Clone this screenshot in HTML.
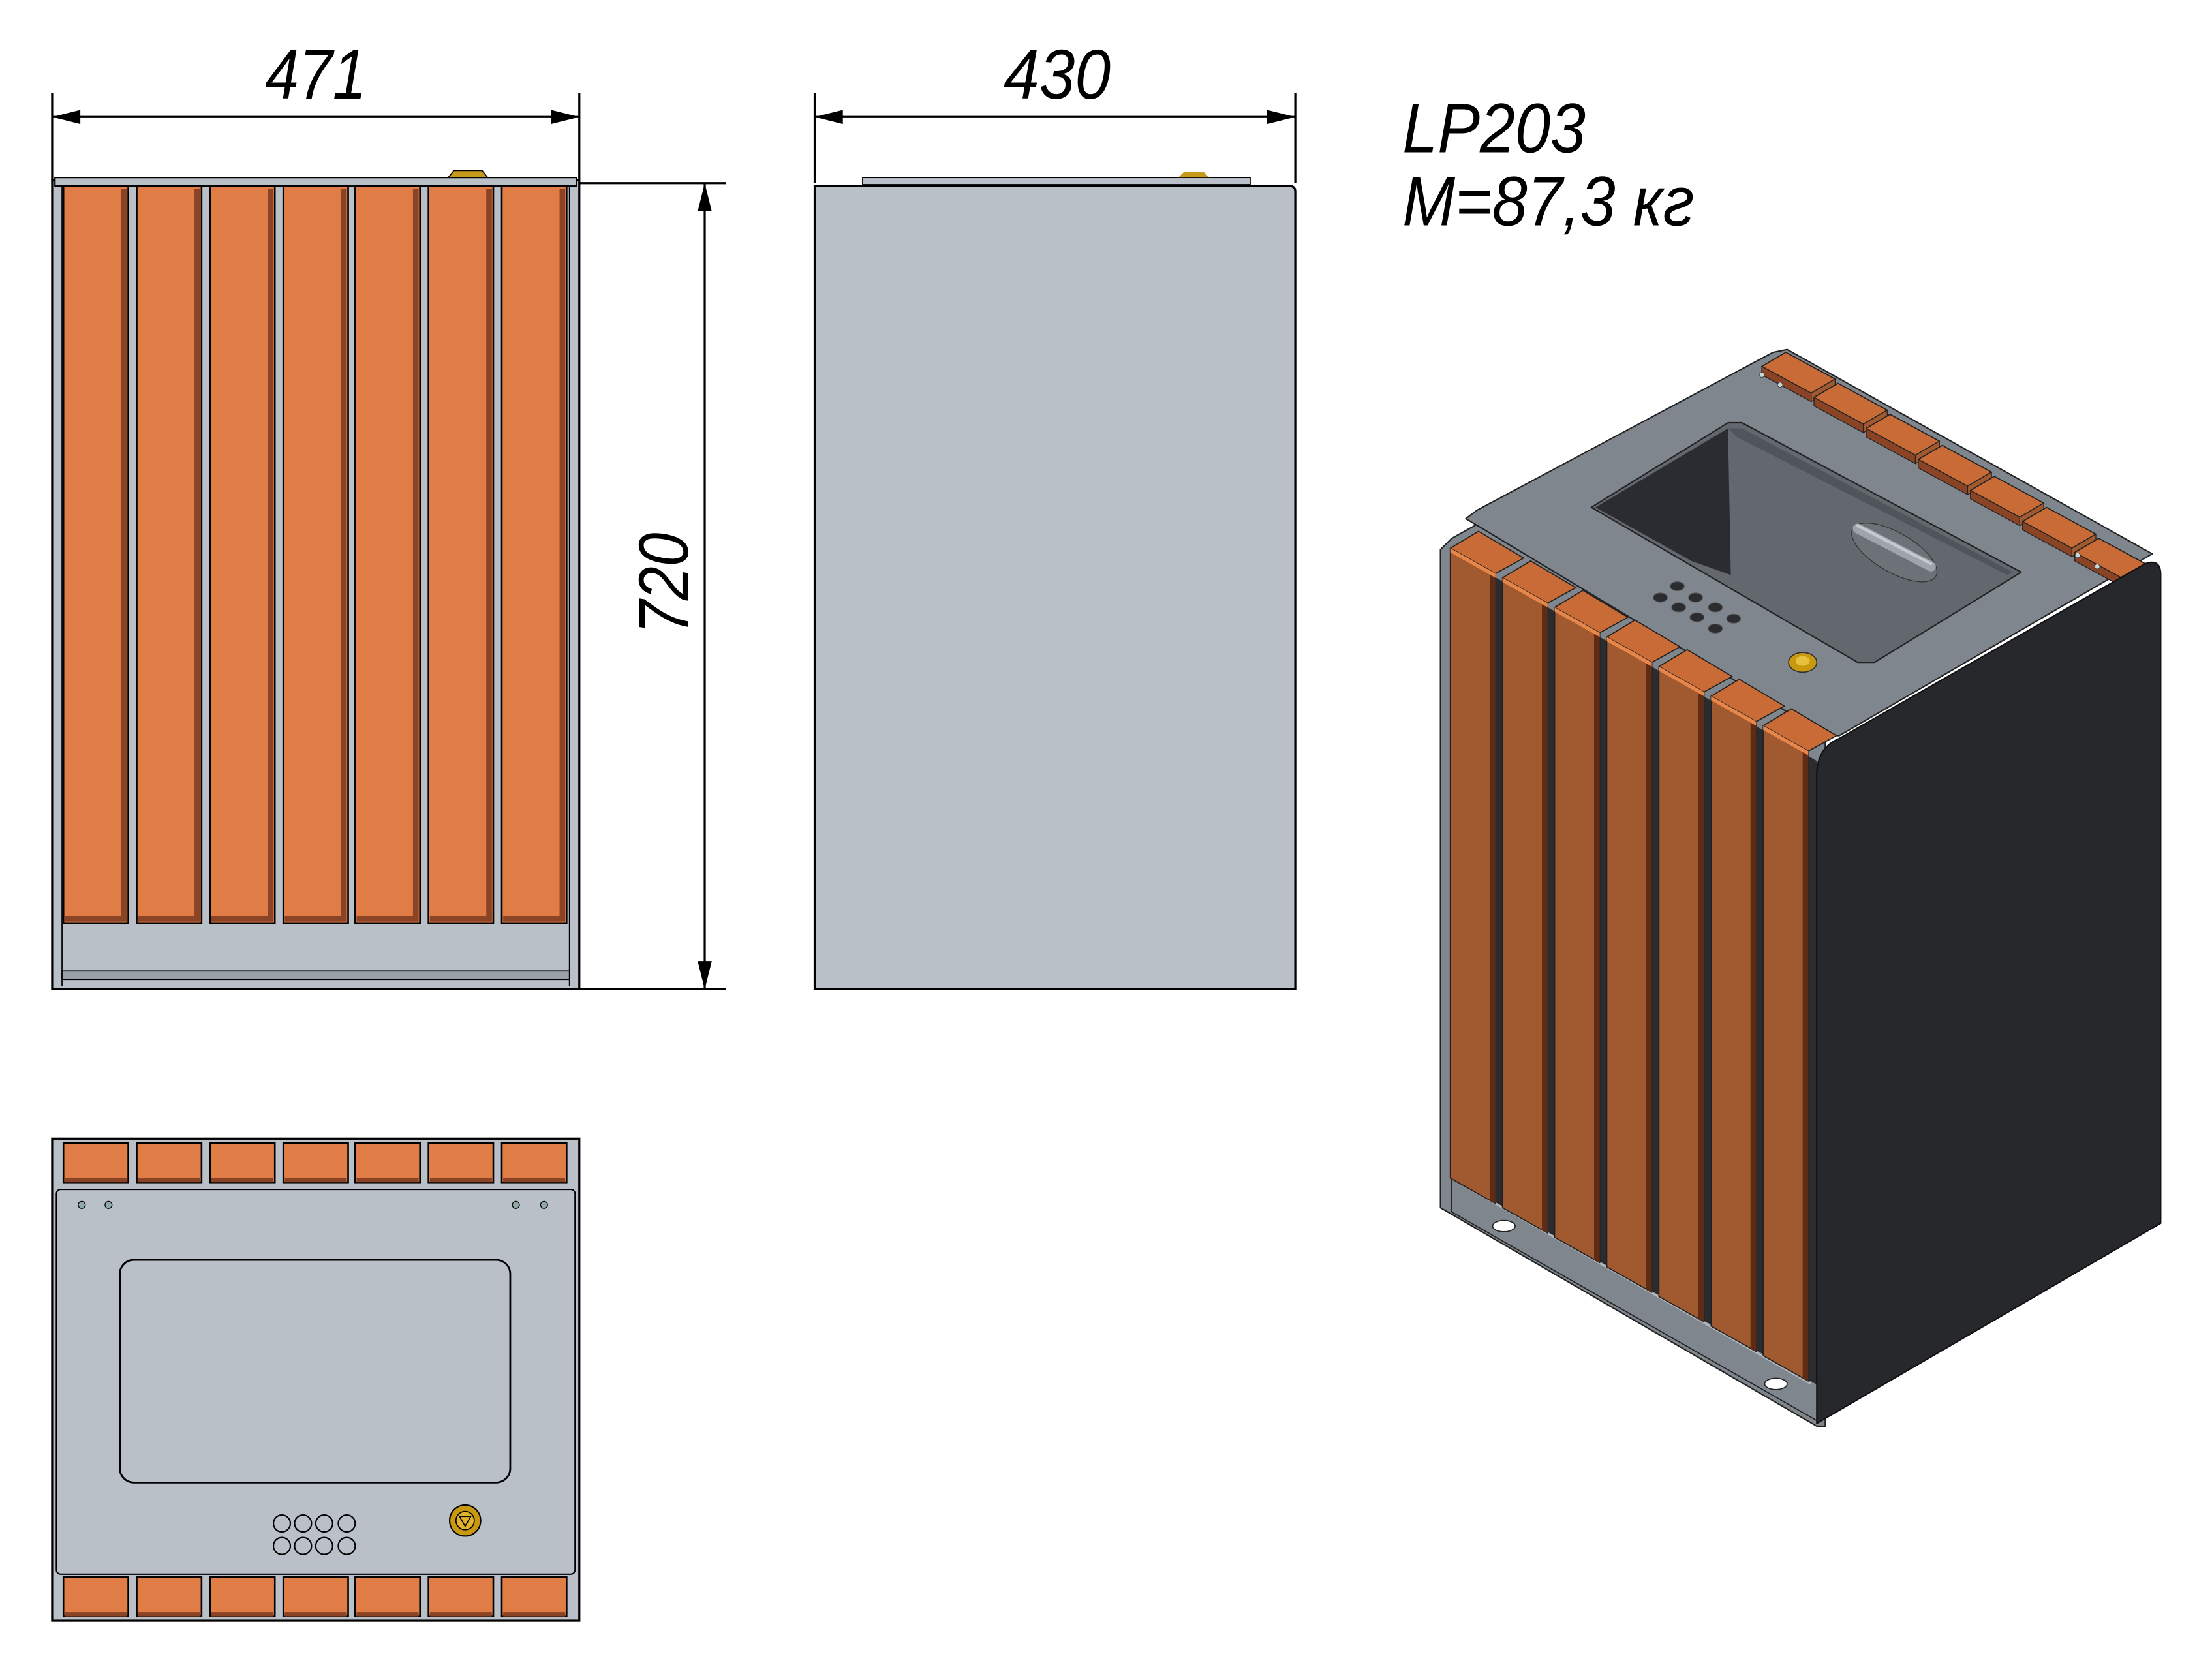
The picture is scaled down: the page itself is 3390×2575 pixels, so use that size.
<!DOCTYPE html>
<html><head><meta charset="utf-8"><style>
html,body{margin:0;padding:0;background:#fff;}
svg{display:block;}
</style></head><body>
<svg xmlns="http://www.w3.org/2000/svg" width="3390" height="2575" viewBox="0 0 1569.4 1192.1" preserveAspectRatio="none">
<defs>
<marker id="ar" viewBox="0 0 20 10" refX="20" refY="5" markerWidth="34" markerHeight="10" markerUnits="userSpaceOnUse" orient="auto-start-reverse">
<path d="M0,0 L20,5 L0,10 Z" fill="#000"/>
</marker>
<g id="slat">
<rect x="0" y="0" width="46" height="523" fill="#e07d46" stroke="#000" stroke-width="1.2"/>
<rect x="41" y="2" width="4" height="519" fill="#8a4425"/>
<rect x="1" y="518" width="44" height="4" fill="#8a4425"/>
</g>
<g id="tb">
<rect x="0" y="0" width="46" height="28" fill="#e07d46" stroke="#000" stroke-width="1.2"/>
<rect x="1" y="25" width="44" height="3" fill="#8a4425"/>
</g>
<g id="fb">
<polygon points="0,0 32,18 32,465 0,447" fill="#a15a2f" stroke="#222" stroke-width="0.8"/>
<polygon points="28,16 32,18 32,465 28,463" fill="#5e2c14"/>
<polygon points="0,0 20,-12 52,7 32,18" fill="#c96b37" stroke="#222" stroke-width="0.8"/>
<polygon points="0,0 32,18 32,21 0,3" fill="#e8864a"/>
</g>
<g id="bb">
<polygon points="0,10 17,0 52,19 35,29" fill="#c96b37" stroke="#222" stroke-width="0.8"/>
<polygon points="0,10 35,29 35,35 0,16" fill="#8a4425" stroke="#222" stroke-width="0.6"/>
<polygon points="35,29 52,19 52,25 35,35" fill="#a15a2f" stroke="#222" stroke-width="0.6"/>
</g>
</defs>

<!-- dimensions -->
<g stroke="#000" stroke-width="1.5" fill="none">
<line x1="37" y1="66" x2="37" y2="128"/>
<line x1="411" y1="66" x2="411" y2="128"/>
<line x1="37" y1="83" x2="411" y2="83" marker-start="url(#ar)" marker-end="url(#ar)"/>
<line x1="578" y1="66" x2="578" y2="130"/>
<line x1="919" y1="66" x2="919" y2="130"/>
<line x1="578" y1="83" x2="919" y2="83" marker-start="url(#ar)" marker-end="url(#ar)"/>
<line x1="411" y1="130" x2="515" y2="130"/>
<line x1="411" y1="702" x2="515" y2="702"/>
<line x1="500" y1="130" x2="500" y2="702" marker-start="url(#ar)" marker-end="url(#ar)"/>
</g>
<g font-family="Liberation Sans, sans-serif" font-style="italic" fill="#000">
<text x="188" y="70" font-size="50" textLength="72" lengthAdjust="spacingAndGlyphs">471</text>
<text x="712" y="70" font-size="50" textLength="76" lengthAdjust="spacingAndGlyphs">430</text>
<text transform="translate(488,450) rotate(-90)" font-size="50" textLength="72" lengthAdjust="spacingAndGlyphs">720</text>
<text x="995" y="108" font-size="50" textLength="130" lengthAdjust="spacingAndGlyphs">LP203</text>
<text x="995" y="160" font-size="50" textLength="207" lengthAdjust="spacingAndGlyphs">M=87,3 кг</text>
</g>

<!-- front view -->
<g>
<rect x="37" y="128" width="374" height="574" fill="#b9c0c8" stroke="#000" stroke-width="1.5"/>
<rect x="39" y="126" width="370" height="6" fill="#b9c0c8" stroke="#000" stroke-width="1"/>
<path d="M318,126 L322,121 L342,121 L346,126 Z" fill="#c89a1c" stroke="#000" stroke-width="0.8"/>
<line x1="44" y1="132" x2="44" y2="700" stroke="#000" stroke-width="0.8"/>
<line x1="404" y1="132" x2="404" y2="700" stroke="#000" stroke-width="0.8"/>
<use href="#slat" x="45" y="132"/>
<use href="#slat" x="97" y="132"/>
<use href="#slat" x="149" y="132"/>
<use href="#slat" x="201" y="132"/>
<use href="#slat" x="252" y="132"/>
<use href="#slat" x="304" y="132"/>
<use href="#slat" x="356" y="132"/>
<rect x="44" y="689" width="360" height="6" fill="#9aa1a9" stroke="#000" stroke-width="0.8"/>
</g>

<!-- side view -->
<g>
<rect x="612" y="126" width="275" height="5" fill="#b9c0c8" stroke="#000" stroke-width="0.8"/>
<path d="M836,126 L840,122 L854,122 L858,126 Z" fill="#c89a1c"/>
<path d="M578,132 L915,132 Q919,132 919,136 L919,702 L578,702 Z" fill="#b9c0c8" stroke="#000" stroke-width="1.5"/>
</g>

<!-- top view -->
<g>
<rect x="37" y="808" width="374" height="342" fill="#b9c0c8" stroke="#000" stroke-width="1.5"/>
<use href="#tb" x="45" y="811"/>
<use href="#tb" x="97" y="811"/>
<use href="#tb" x="149" y="811"/>
<use href="#tb" x="201" y="811"/>
<use href="#tb" x="252" y="811"/>
<use href="#tb" x="304" y="811"/>
<use href="#tb" x="356" y="811"/>
<use href="#tb" x="45" y="1119"/>
<use href="#tb" x="97" y="1119"/>
<use href="#tb" x="149" y="1119"/>
<use href="#tb" x="201" y="1119"/>
<use href="#tb" x="252" y="1119"/>
<use href="#tb" x="304" y="1119"/>
<use href="#tb" x="356" y="1119"/>
<rect x="40" y="844" width="368" height="273" rx="3" fill="#b9c0c8" stroke="#000" stroke-width="1"/>
<rect x="85" y="894" width="277" height="158" rx="10" fill="none" stroke="#000" stroke-width="1.3"/>
<g fill="#8fa9a9" stroke="#000" stroke-width="0.6">
<circle cx="58" cy="855" r="2.5"/><circle cx="77" cy="855" r="2.5"/>
<circle cx="366" cy="855" r="2.5"/><circle cx="386" cy="855" r="2.5"/>
</g>
<g fill="none" stroke="#000" stroke-width="1">
<circle cx="200" cy="1081" r="6"/><circle cx="215" cy="1081" r="6"/><circle cx="230" cy="1081" r="6"/><circle cx="246" cy="1081" r="6"/>
<circle cx="200" cy="1097" r="6"/><circle cx="215" cy="1097" r="6"/><circle cx="230" cy="1097" r="6"/><circle cx="246" cy="1097" r="6"/>
</g>
<circle cx="330" cy="1079" r="11" fill="#c8980f" stroke="#000" stroke-width="1"/>
<circle cx="330" cy="1079" r="6.5" fill="#e2b22a" stroke="#000" stroke-width="0.8"/>
<path d="M326,1076 L334,1076 L330,1083 Z" fill="none" stroke="#000" stroke-width="0.8"/>
</g>

<!-- isometric view -->
<g stroke-linejoin="round">
<polygon points="1022,390 1030,382 1048,372 1295,520 1295,1012 1289,1012 1022,857" fill="#7f868d" stroke="#222" stroke-width="1"/>
<polygon points="1030,392 1289,540 1289,995 1030,848" fill="#2a2c30"/>
<polygon points="1030,835 1289,982 1289,1008 1030,860" fill="#7f868d" stroke="#222" stroke-width="0.8"/>
<line x1="1040" y1="842" x2="1285" y2="982" stroke="#b0b7bd" stroke-width="1.5"/>
<ellipse cx="1067" cy="870" rx="8" ry="4" fill="#fff" stroke="#222" stroke-width="0.8"/>
<ellipse cx="1260" cy="982" rx="8" ry="4" fill="#fff" stroke="#222" stroke-width="0.8"/>
<polygon points="1040,368 1048,362 1258,250 1268,248 1527,393 1305,522 1296,522" fill="#7f868d" stroke="#222" stroke-width="1"/>
<use href="#bb" x="1250" y="250"/>
<use href="#bb" x="1287" y="272"/>
<use href="#bb" x="1324" y="294"/>
<use href="#bb" x="1361" y="316"/>
<use href="#bb" x="1398" y="338"/>
<use href="#bb" x="1435" y="360"/>
<use href="#bb" x="1472" y="382"/>
<polygon points="1129,360 1226,300 1236,300 1434,406 1330,470 1318,470" fill="#62686e" stroke="#222" stroke-width="1"/>
<polygon points="1132,360 1226,304 1228,408 1200,398" fill="#2a2c31"/>
<polygon points="1226,304 1236,304 1428,406 1424,408 1232,310" fill="#50555b"/>
<ellipse cx="1344" cy="392" rx="34" ry="14" transform="rotate(30 1344 392)" fill="#6c7278" stroke="#333" stroke-width="0.6"/>
<line x1="1318" y1="375" x2="1370" y2="402" stroke="#9ea4aa" stroke-width="7" stroke-linecap="round"/>
<line x1="1318" y1="373" x2="1370" y2="400" stroke="#c5cacf" stroke-width="2" stroke-linecap="round"/>
<g fill="#2a2c30" stroke="#555" stroke-width="0.5">
<ellipse cx="1190" cy="416" rx="5" ry="3.2"/><ellipse cx="1203" cy="424" rx="5" ry="3.2"/><ellipse cx="1217" cy="431" rx="5" ry="3.2"/><ellipse cx="1230" cy="439" rx="5" ry="3.2"/>
<ellipse cx="1178" cy="424" rx="5" ry="3.2"/><ellipse cx="1191" cy="431" rx="5" ry="3.2"/><ellipse cx="1204" cy="438" rx="5" ry="3.2"/><ellipse cx="1217" cy="446" rx="5" ry="3.2"/>
</g>
<ellipse cx="1279" cy="470" rx="10" ry="7" fill="#c8980f" stroke="#333" stroke-width="0.8"/>
<ellipse cx="1279" cy="469" rx="5" ry="3.5" fill="#e8c040"/>
<g fill="#c9d7d7" stroke="#333" stroke-width="0.4">
<circle cx="1250" cy="266" r="1.8"/><circle cx="1263" cy="273" r="1.8"/>
<circle cx="1474" cy="394" r="1.8"/><circle cx="1488" cy="402" r="1.8"/>
</g>
<path d="M1289,548 Q1290,530 1305,524 L1522,400 Q1533,396 1533,408 L1533,868 L1289,1010 Z" fill="#26282c" stroke="#111" stroke-width="1"/>
<use href="#fb" x="1029" y="389"/>
<use href="#fb" x="1066" y="410"/>
<use href="#fb" x="1103" y="431"/>
<use href="#fb" x="1140" y="452"/>
<use href="#fb" x="1177" y="473"/>
<use href="#fb" x="1214" y="494"/>
<use href="#fb" x="1251" y="515"/>
</g>
</svg>
</body></html>
